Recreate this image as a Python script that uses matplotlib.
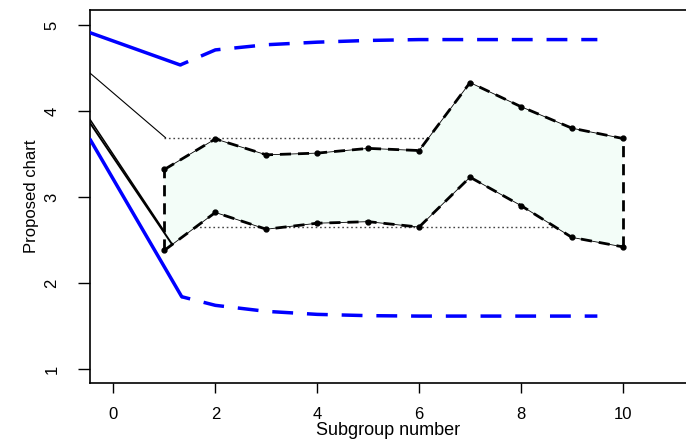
import matplotlib.pyplot as plt

plt.rcParams['font.family'] = ['Liberation Sans', 'DejaVu Sans']

# band of the proposed chart
subgroup = [1, 2, 3, 4, 5, 6, 7, 8, 9, 10]
upper = [3.32, 3.675, 3.49, 3.51, 3.565, 3.54, 4.33, 4.05, 3.80, 3.68]
lower = [2.38, 2.82, 2.625, 2.695, 2.713, 2.65, 3.23, 2.90, 2.53, 2.42]

# reference levels (dotted)
ref_hi = 3.69
ref_lo = 2.655

# blue limits: solid start, dashed continuation
ucl_solid_x = [-0.46, 1.31]
ucl_solid_y = [4.91, 4.535]
lcl_solid_x = [-0.46, 1.34]
lcl_solid_y = [3.67, 1.84]
ucl_x = [1.31, 2, 3, 4, 5, 6, 7, 8, 9, 9.5]
ucl_y = [4.535, 4.71, 4.77, 4.80, 4.82, 4.83, 4.83, 4.83, 4.83, 4.83]
lcl_x = [1.34, 2, 3, 4, 5, 6, 7, 8, 9, 9.5]
lcl_y = [1.84, 1.74, 1.67, 1.635, 1.62, 1.615, 1.615, 1.615, 1.615, 1.615]

# black lead-in lines
thin_x = [-0.46, 1.02]
thin_y = [4.44, 3.69]
leadA_x = [-0.46, 0.98]
leadA_y = [3.90, 2.615]
leadB_x = [-0.46, 1.15]
leadB_y = [3.86, 2.45]

fig = plt.figure(figsize=(6.86, 4.43), dpi=100)
ax = fig.add_axes([90 / 686, 60 / 443, 1 - 90 / 686, 373 / 443])

# dotted reference lines, partly hidden by the band
ax.plot([1, 10], [ref_hi, ref_hi], color='#444444', lw=1, ls=(0, (1.2, 2)), zorder=1)
ax.plot([1, 10], [ref_lo, ref_lo], color='#444444', lw=1, ls=(0, (1.2, 2)), zorder=1)

poly_x = subgroup + subgroup[::-1]
poly_y = upper + lower[::-1]
ax.fill(poly_x, poly_y, color='#F3FDF8', lw=0, zorder=2)

# band edges: thin solid under thick dashes
for ys in (upper, lower):
    ax.plot(subgroup, ys, color='black', lw=0.6, zorder=3)
    ax.plot(subgroup, ys, color='black', lw=2, ls=(0, (4, 2.5)), zorder=3)
    ax.plot(subgroup, ys, 'o', color='black', ms=3.5, zorder=4)
for i in (0, -1):
    ax.plot([subgroup[i], subgroup[i]], [lower[i], upper[i]], color='black', lw=2,
            ls=(0, (4, 2.5)), zorder=3)

ax.plot(thin_x, thin_y, color='black', lw=0.8, zorder=3)
ax.plot(leadA_x, leadA_y, color='black', lw=1.1, zorder=3)
ax.plot(leadB_x, leadB_y, color='black', lw=1.4, zorder=3)

ax.plot(ucl_solid_x, ucl_solid_y, color='#0000FF', lw=2.5, solid_capstyle='round', zorder=3)
ax.plot(lcl_solid_x, lcl_solid_y, color='#0000FF', lw=2.5, solid_capstyle='round', zorder=3)
ax.plot(ucl_x, ucl_y, color='#0000FF', lw=2.5, ls=(3.5, (6, 4)), zorder=3)
ax.plot(lcl_x, lcl_y, color='#0000FF', lw=2.5, ls=(3.5, (6, 4)), zorder=3)

ax.set_xlim(-0.461, 11.24)
ax.set_ylim(0.837, 5.174)
ax.set_xticks([0, 2, 4, 6, 8, 10])
ax.set_yticks([1, 2, 3, 4, 5])
ax.tick_params(axis='x', length=7.5, width=1, labelsize=12, pad=10)
ax.tick_params(axis='y', length=9, width=1, labelsize=12, pad=13, labelrotation=90)
for lab in ax.get_yticklabels():
    lab.set_verticalalignment('center')
ax.spines['right'].set_visible(False)
for s in ('left', 'top', 'bottom'):
    ax.spines[s].set_linewidth(1.2)

ax.set_xlabel('Subgroup number', fontsize=13, labelpad=0)
ax.set_ylabel('Proposed chart', fontsize=12, labelpad=4)

fig.savefig('out.png', dpi=100)
